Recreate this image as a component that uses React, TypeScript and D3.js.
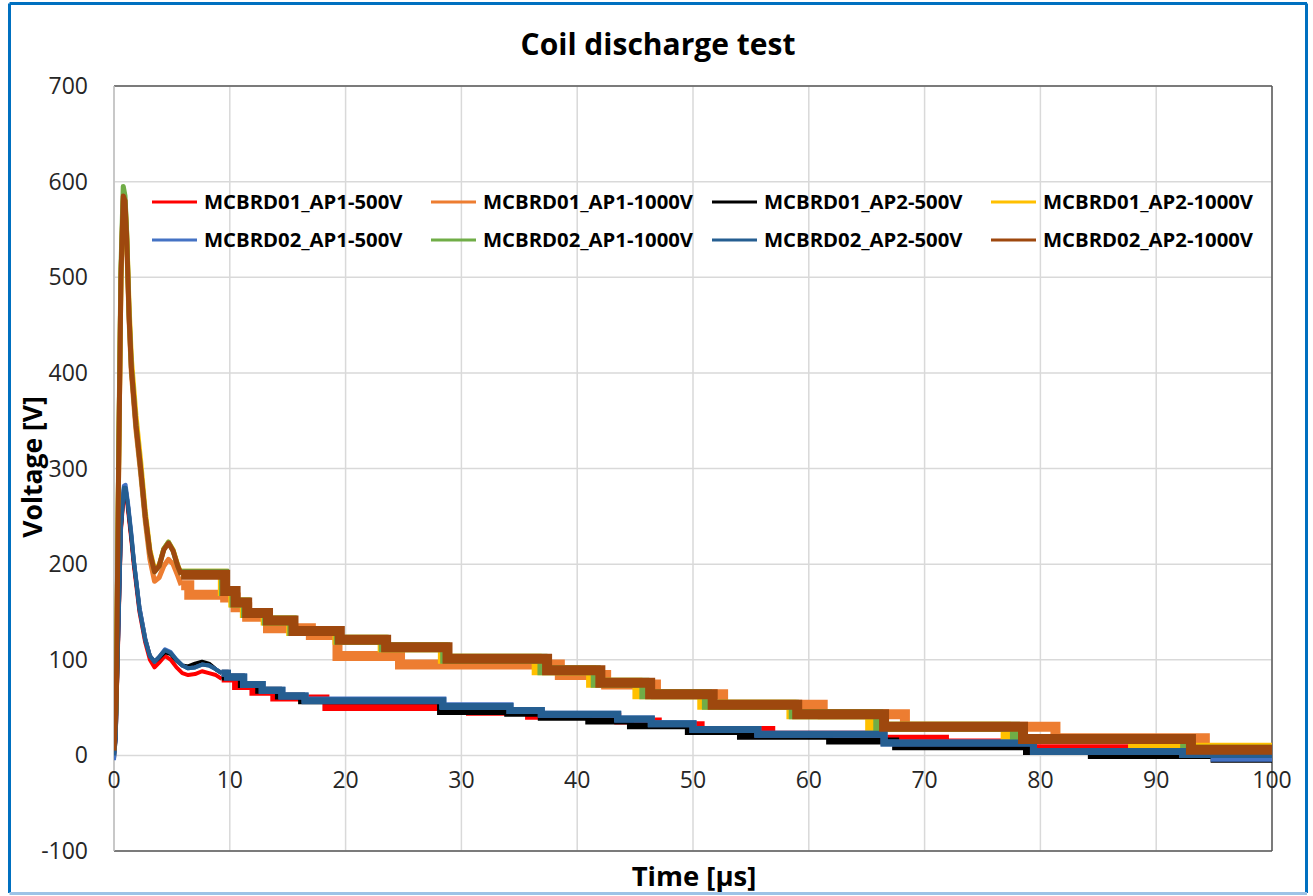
import React from 'react';
import * as d3 from 'd3';

const W = 1313;
const H = 896;

const titleText = 'Coil discharge test';
const xTitle = 'Time [μs]';
const yTitle = 'Voltage [V]';
const xTicks = [0, 10, 20, 30, 40, 50, 60, 70, 80, 90, 100];
const yTicks = [-100, 0, 100, 200, 300, 400, 500, 600, 700];

const seriesNames = [
  'MCBRD01_AP1-500V', 'MCBRD01_AP1-1000V', 'MCBRD01_AP2-500V', 'MCBRD01_AP2-1000V',
  'MCBRD02_AP1-500V', 'MCBRD02_AP1-1000V', 'MCBRD02_AP2-500V', 'MCBRD02_AP2-1000V',
];
const seriesColors = ['#FF0000', '#ED7D31', '#000000', '#FFC000', '#4472C4', '#70AD47', '#255E91', '#9E480E'];
const seriesVoltage = [500, 1000, 500, 1000, 500, 1000, 500, 1000];

// ---- MCBRD01_AP1-500V (red)
const s1Pulse: [number, number][] = [[0, 0], [0.15, 20], [0.35, 115], [0.6, 235], [0.85, 275], [1, 276], [1.2, 258], [1.5, 225], [1.7, 200], [2.2, 150], [2.7, 118], [3.1, 100], [3.5, 92], [3.9, 97], [4.4, 104], [4.9, 100], [5.4, 92], [5.9, 86], [6.4, 84], [7.0, 85], [7.6, 88], [8.2, 86], [8.8, 84], [9.3, 80]];
const s1Steps: [number, number][] = [[9.3, 80], [10.5, 72], [12, 66], [13.8, 60], [18.3, 50], [30.7, 45], [35.8, 41], [43.5, 36], [47, 32], [50.7, 27], [56.8, 22], [65.6, 18], [71.8, 14], [79.2, 8], [89, 4], [100, 3]];
// ---- MCBRD01_AP1-1000V (orange)
const s2Pulse: [number, number][] = [[0, 5], [0.2, 60], [0.4, 300], [0.6, 500], [0.8, 580], [0.95, 576], [1.1, 536], [1.3, 456], [1.5, 400], [1.9, 340], [2.3, 295], [2.7, 245], [3.1, 205], [3.5, 182], [3.9, 186], [4.3, 198], [4.7, 205], [5.1, 200], [5.5, 188], [5.8, 178]];
const s2Steps: [number, number][] = [[5.8, 178], [6.5, 168], [9.6, 165], [10.5, 155], [11.5, 145], [13.3, 133], [17, 126], [19.3, 104], [24.7, 95], [38.5, 84], [42.5, 74], [46.8, 64], [52.6, 53], [61.2, 43], [68.3, 30], [81.3, 18], [94.2, 6], [100, 6]];
// ---- MCBRD01_AP2-500V (black)
const s3Pulse: [number, number][] = [[0, -3], [0.15, 18], [0.35, 118], [0.6, 238], [0.85, 278], [1, 279], [1.2, 262], [1.5, 228], [1.7, 204], [2.2, 154], [2.7, 122], [3.1, 104], [3.5, 98], [3.9, 102], [4.4, 108], [4.9, 106], [5.4, 99], [5.9, 94], [6.4, 93], [7.0, 96], [7.6, 98], [8.2, 96], [8.8, 90], [9.3, 86]];
const s3Steps: [number, number][] = [[9.3, 86], [9.6, 82], [11, 74], [12.5, 68], [14.2, 62], [16.2, 57], [28.2, 46], [34, 44], [36.9, 40], [41, 36], [44.6, 31], [49.6, 25], [54.1, 20], [61.8, 15], [67.5, 9], [78.8, 4], [84.4, 0], [95, -4], [100, -4]];
// ---- MCBRD01_AP2-1000V (yellow)
const s4Pulse: [number, number][] = [[0, 5], [0.2, 60], [0.4, 300], [0.6, 500], [0.8, 582], [0.95, 580], [1.1, 545], [1.3, 470], [1.5, 415], [1.9, 355], [2.3, 308], [2.7, 255], [3.1, 215], [3.5, 194], [3.9, 199], [4.3, 216], [4.7, 223], [5.1, 215], [5.5, 199], [5.8, 190]];
const s4Steps: [number, number][] = [[5.8, 190], [9.4, 172], [10.3, 160], [11.3, 149], [13.1, 141], [15.3, 130], [19.3, 121], [23.2, 113], [28.4, 101], [36.5, 89], [41.2, 76], [45.2, 64], [50.8, 53], [58.5, 43], [65.3, 30], [77.0, 17], [88, 8], [100, 6]];
// ---- MCBRD02_AP1-500V (light blue)
const s5Pulse: [number, number][] = [[0, -5], [0.15, 20], [0.35, 120], [0.6, 240], [0.85, 282], [1, 283], [1.2, 265], [1.5, 232], [1.7, 206], [2.2, 155], [2.7, 122], [3.1, 104], [3.5, 98], [3.9, 103], [4.4, 111], [4.9, 108], [5.4, 100], [5.9, 94], [6.4, 91], [7.0, 92], [7.6, 95], [8.2, 94], [8.8, 90], [9.3, 86]];
const s5Steps: [number, number][] = [[9.3, 86], [9.8, 82], [11.2, 74], [12.8, 68], [14.5, 62], [16.5, 58], [28.4, 52], [34.2, 47], [36.9, 43], [43.5, 38], [46.4, 33], [50, 27], [55.6, 22], [66.5, 13], [79.4, 4], [92.3, 1], [95, -3], [100, -3]];
// ---- MCBRD02_AP1-1000V (green)
const s6Pulse: [number, number][] = [[0, 5], [0.2, 60], [0.4, 310], [0.6, 510], [0.8, 595], [0.95, 585], [1.1, 545], [1.3, 462], [1.5, 406], [1.9, 346], [2.3, 300], [2.7, 250], [3.1, 212], [3.5, 192], [3.9, 198], [4.3, 216], [4.7, 223], [5.1, 214], [5.5, 198], [5.8, 189]];
const s6Steps: [number, number][] = [[5.8, 190], [9.5, 172], [10.4, 160], [11.4, 149], [13.2, 141], [15.4, 130], [19.4, 121], [23.3, 113], [28.6, 101], [37.0, 89], [41.6, 76], [45.8, 64], [51.2, 53], [58.7, 43], [66.0, 30], [77.8, 17], [92.5, 6], [100, 6]];
// ---- MCBRD02_AP2-500V (dark blue)
const s7Pulse: [number, number][] = [[0, 0], [0.15, 20], [0.35, 120], [0.6, 240], [0.85, 280], [1, 280], [1.2, 262], [1.5, 230], [1.7, 205], [2.2, 152], [2.7, 120], [3.1, 104], [3.5, 98], [3.9, 103], [4.4, 110], [4.9, 107], [5.4, 100], [5.9, 94], [6.4, 91], [7.0, 92], [7.6, 95], [8.2, 94], [8.8, 90], [9.3, 86]];
const s7Steps: [number, number][] = [[9.3, 86], [9.8, 82], [11.2, 74], [12.8, 68], [14.5, 62], [16.5, 57], [28.4, 51], [34.2, 47], [36.9, 43], [43.5, 38], [46.4, 33], [50, 27], [55.6, 22], [66.5, 13], [79.4, 4], [92.3, 1], [100, 0]];
// ---- MCBRD02_AP2-1000V (brown)
const s8Pulse: [number, number][] = [[0, 5], [0.2, 60], [0.4, 300], [0.6, 500], [0.8, 585], [0.95, 580], [1.1, 540], [1.3, 460], [1.5, 405], [1.9, 345], [2.3, 300], [2.7, 250], [3.1, 212], [3.5, 192], [3.9, 198], [4.3, 215], [4.7, 222], [5.1, 214], [5.5, 198], [5.8, 189]];
const s8Steps: [number, number][] = [[5.8, 189], [9.6, 172], [10.5, 160], [11.5, 149], [13.3, 141], [15.5, 130], [19.5, 121], [23.5, 113], [28.8, 101], [37.4, 89], [42, 76], [46.3, 64], [51.7, 53], [59, 43], [66.5, 30], [78.5, 17], [93, 6], [100, 6]];

const pulses = [s1Pulse, s2Pulse, s3Pulse, s4Pulse, s5Pulse, s6Pulse, s7Pulse, s8Pulse];
const steps = [s1Steps, s2Steps, s3Steps, s4Steps, s5Steps, s6Steps, s7Steps, s8Steps];

const PL = 114, PR = 1272, PT = 86, PB = 851;
const FONT = "'Open Sans', 'Liberation Sans', sans-serif";

export default function App() {
  const x = d3.scaleLinear().domain([0, 100]).range([PL, PR]);
  const y = d3.scaleLinear().domain([-100, 700]).range([PB, PT]);
  const lineLin = d3.line<[number, number]>().x(d => x(d[0])).y(d => y(d[1])).curve(d3.curveLinear);
  const lineStep = d3.line<[number, number]>().x(d => x(d[0])).y(d => y(d[1])).curve(d3.curveStepAfter);

  const legendCols = [152, 431, 712, 991];
  const legendRows = [202, 240];

  return (
    <svg width={W} height={H} style={{ position: 'absolute', left: 0, top: 0, background: '#fff' }}>
      <rect x={0} y={0} width={W} height={H} fill="#fff" />
      <defs>
        <clipPath id="plotClip">
          <rect x={PL} y={PT} width={PR - PL} height={PB - PT} />
        </clipPath>
      </defs>
      {/* outer frame */}
      <line x1={9.5} y1={3.5} x2={1307} y2={3.5} stroke="#0070C0" strokeWidth={3} />
      <line x1={9.5} y1={3.5} x2={9.5} y2={893} stroke="#0070C0" strokeWidth={3} />
      <line x1={1306.5} y1={3.5} x2={1306.5} y2={893} stroke="#0070C0" strokeWidth={3} />
      <line x1={9.5} y1={893.5} x2={1307} y2={893.5} stroke="#9DC3E6" strokeWidth={3} />

      {/* grid */}
      {xTicks.map(t => (
        <line key={'gx' + t} x1={x(t)} x2={x(t)} y1={PT} y2={PB} stroke="#D9D9D9" strokeWidth={1.5} />
      ))}
      {yTicks.map(t => (
        <line key={'gy' + t} x1={PL} x2={PR} y1={y(t)} y2={y(t)} stroke="#D9D9D9" strokeWidth={1.5} />
      ))}
      {/* plot border */}
      <line x1={PL} x2={PR} y1={PT} y2={PT} stroke="#595959" strokeWidth={1.5} />
      <line x1={PR} x2={PR} y1={PT} y2={PB} stroke="#595959" strokeWidth={1.5} />
      <line x1={PL} x2={PR} y1={PB} y2={PB} stroke="#595959" strokeWidth={1.5} />
      <line x1={PL} x2={PL} y1={PT} y2={PB} stroke="#BFBFBF" strokeWidth={1.5} />

      {/* series */}
      <g clipPath="url(#plotClip)">
        {seriesNames.map((n, i) => (
          <g key={n}>
            <path d={lineLin(pulses[i]) || ''} fill="none" stroke={seriesColors[i]} strokeWidth={seriesVoltage[i] === 1000 ? 5 : 4} strokeLinejoin="round" />
            <path d={lineStep(steps[i]) || ''} fill="none" stroke={seriesColors[i]} strokeWidth={seriesVoltage[i] === 1000 ? 10 : 7} strokeLinejoin="miter" />
          </g>
        ))}
      </g>

      {/* tick labels */}
      {yTicks.map(t => (
        <text key={'yl' + t} x={88} y={y(t)} dy="0.35em" textAnchor="end" fontFamily={FONT} fontSize={23} fill="#262626">{t}</text>
      ))}
      {xTicks.map(t => (
        <text key={'xl' + t} x={x(t)} y={788} textAnchor="middle" fontFamily={FONT} fontSize={23} fill="#262626">{t}</text>
      ))}

      {/* titles */}
      <text x={658} y={55} textAnchor="middle" fontFamily={FONT} fontWeight="bold" fontSize={30} fill="#000">{titleText}</text>
      <text x={694} y={886} textAnchor="middle" fontFamily={FONT} fontWeight="bold" fontSize={27.5} fill="#000">{xTitle}</text>
      <text transform={`translate(42,467) rotate(-90)`} textAnchor="middle" fontFamily={FONT} fontWeight="bold" fontSize={26.5} fill="#000">{yTitle}</text>

      {/* legend */}
      {seriesNames.map((n, i) => {
        const col = i % 4;
        const row = Math.floor(i / 4);
        const lx = legendCols[col];
        const ly = legendRows[row];
        return (
          <g key={'lg' + n}>
            <line x1={lx} x2={lx + 45} y1={ly} y2={ly} stroke={seriesColors[i]} strokeWidth={3} />
            <text x={lx + 52} y={ly} dy="0.35em" fontFamily={FONT} fontWeight="bold" fontSize={20.3} fill="#000">{n}</text>
          </g>
        );
      })}
    </svg>
  );
}
